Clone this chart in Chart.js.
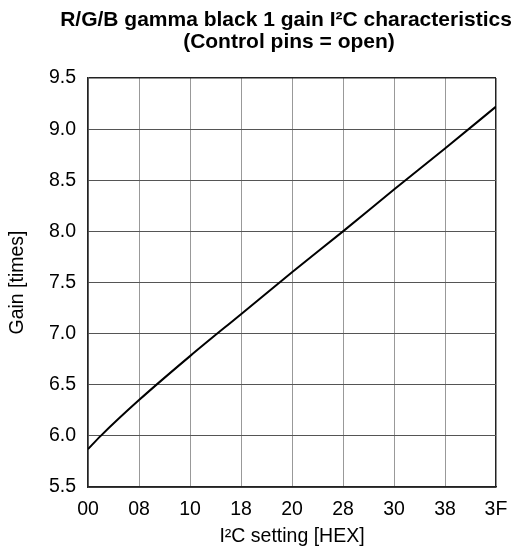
<!DOCTYPE html>
<html>
<head>
<meta charset="utf-8">
<script src="https://cdn.jsdelivr.net/npm/chart.js@4/dist/chart.umd.min.js"></script>
<style>
  html, body { margin: 0; padding: 0; background: #fff; }
  #wrap { width: 528px; height: 549px; }
</style>
</head>
<body>
<div id="wrap"><canvas id="gainChart" width="528" height="549"></canvas></div>
<script>
// I2C setting on the axis (0..64 grid units, last tick = 3F) and gain values
const xPos = [0, 2, 8, 16, 24, 32, 40, 48, 56, 64];
const gainValues = [5.87, 6.0, 6.35, 6.78, 7.19, 7.60, 8.0, 8.41, 8.81, 9.22];
const xTickLabels = ['00', '08', '10', '18', '20', '28', '30', '38', '3F'];
const titleLines = ['R/G/B gamma black 1 gain I\u00B2C characteristics', '(Control pins = open)'];

const FONT = "'Liberation Sans', Arial, sans-serif";

// draws the two title lines above the plot
const titleText = {
  id: 'titleText',
  afterDraw(chart) {
    const ctx = chart.ctx;
    ctx.save();
    ctx.fillStyle = '#000';
    ctx.font = 'bold 21px ' + FONT;
    ctx.textAlign = 'center';
    ctx.textBaseline = 'middle';
    ctx.fillText(titleLines[0], 286, 20);
    ctx.fillText(titleLines[1], 289, 42);
    ctx.restore();
  }
};

const pts = xPos.map((x, i) => ({ x: x, y: gainValues[i] }));

new Chart(document.getElementById('gainChart'), {
  type: 'line',
  data: {
    datasets: [{
      data: pts,
      borderColor: '#000',
      borderWidth: 2,
      pointRadius: 0,
      fill: false,
      cubicInterpolationMode: 'monotone'
    }]
  },
  options: {
    responsive: false,
    animation: false,
    layout: { padding: { top: 78, right: 32, bottom: 0, left: 0 } },
    plugins: {
      legend: { display: false },
      tooltip: { enabled: false }
    },
    scales: {
      x: {
        type: 'linear',
        min: 0,
        max: 64,
        afterFit(scale) { scale.height = 62; },
        ticks: {
          stepSize: 8,
          padding: 11,
          color: '#000',
          font: { family: FONT, size: 19.5 },
          maxRotation: 0,
          callback: (v) => xTickLabels[v / 8]
        },
        grid: {
          drawTicks: false,
          color: (c) => c.tick && c.tick.value === 64 ? '#222' : '#999',
          lineWidth: (c) => c.tick && c.tick.value === 64 ? 1.5 : 1
        },
        border: { color: '#222', width: 1.5 },
        title: {
          display: true,
          text: 'I\u00B2C setting [HEX]',
          color: '#000',
          font: { family: FONT, size: 19.5 },
          padding: { top: 0, bottom: 1 }
        }
      },
      y: {
        min: 5.5,
        max: 9.5,
        afterFit(scale) { scale.width = 88; },
        ticks: {
          stepSize: 0.5,
          padding: 12,
          color: '#000',
          font: { family: FONT, size: 19.5 },
          callback: (v) => v.toFixed(1)
        },
        grid: {
          drawTicks: false,
          color: (c) => c.tick && c.tick.value === 9.5 ? '#222' : '#555',
          lineWidth: (c) => c.tick && c.tick.value === 9.5 ? 1.5 : 1
        },
        border: { color: '#222', width: 1.5 },
        title: {
          display: true,
          text: 'Gain [times]',
          color: '#000',
          font: { family: FONT, size: 19.5 },
          padding: { top: 6, bottom: 0 }
        }
      }
    }
  },
  plugins: [titleText]
});
</script>
</body>
</html>
